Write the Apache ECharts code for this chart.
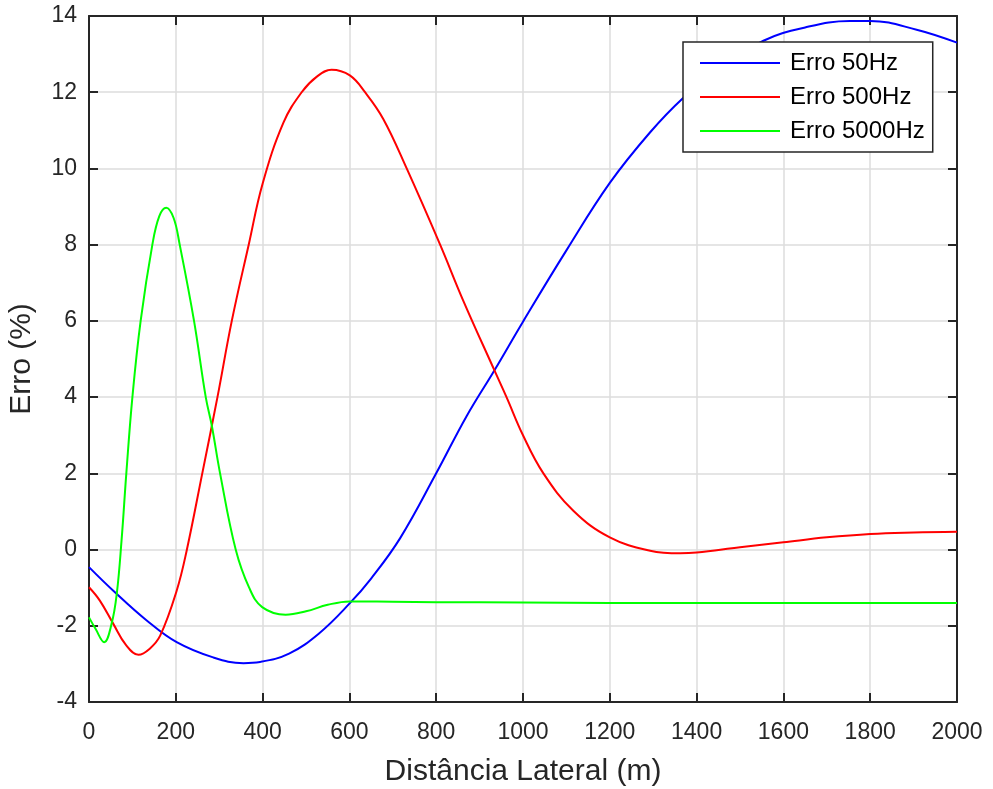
<!DOCTYPE html>
<html>
<head>
<meta charset="utf-8">
<script src="https://cdn.jsdelivr.net/npm/echarts@6/dist/echarts.min.js"></script>
<style>
html,body{margin:0;padding:0;background:#fff;}
#chart{width:993px;height:789px;}
</style>
</head>
<body>
<div id="chart"></div>
<script>
// ---- data ----
const seriesNames = ['Erro 50Hz', 'Erro 500Hz', 'Erro 5000Hz'];
const xTicks = [0, 200, 400, 600, 800, 1000, 1200, 1400, 1600, 1800, 2000];
const yTicks = [-4, -2, 0, 2, 4, 6, 8, 10, 12, 14];

const x50 = [0, 56, 133, 202, 286, 356, 394, 461, 530, 600, 650, 717, 800, 870, 935, 1000, 1100, 1200, 1293, 1369, 1450, 1554, 1650, 1753, 1800, 1907, 2000];
const y50 = [-0.46, -1.08, -1.86, -2.43, -2.83, -2.98, -2.95, -2.73, -2.2, -1.42, -0.76, 0.3, 2.0, 3.5, 4.72, 5.98, 7.85, 9.62, 10.95, 11.85, 12.6, 13.35, 13.7, 13.87, 13.87, 13.64, 13.3];

const x500 = [0, 25, 56, 85, 114, 140, 164, 202, 225, 261, 296, 329, 368, 400, 448, 490, 525, 559, 601, 636, 678, 732, 809, 862, 935, 962, 1000, 1047, 1116, 1200, 1293, 1362, 1400, 1500, 1600, 1700, 1800, 1900, 2000];
const y500 = [-0.99, -1.34, -1.95, -2.5, -2.76, -2.6, -2.26, -1.08, -0.03, 2.0, 4.0, 6.0, 8.0, 9.6, 11.2, 12.0, 12.41, 12.59, 12.44, 12.0, 11.3, 10.0, 8.0, 6.54, 4.68, 4.0, 3.0, 2.0, 1.02, 0.32, -0.03, -0.1, -0.08, 0.06, 0.19, 0.32, 0.41, 0.45, 0.47];

const x5000 = [0, 15, 35, 52, 64, 75, 86, 100, 119, 146, 162, 178, 195, 209, 242, 269, 283, 302, 338, 369, 399, 453, 500, 550, 600, 700, 800, 1000, 1200, 1400, 1600, 1800, 2000];
const y5000 = [-1.78, -2.08, -2.43, -1.95, -1.16, 0.24, 2.0, 4.0, 6.0, 8.0, 8.75, 8.97, 8.7, 8.0, 6.0, 4.0, 3.25, 2.0, 0.0, -1.0, -1.51, -1.71, -1.62, -1.45, -1.36, -1.37, -1.38, -1.39, -1.4, -1.4, -1.4, -1.4, -1.4];

const colors = ['#0000ff', '#ff0000', '#00ff00'];

// ---- chart ----
const pairs = (xs, ys) => xs.map((x, i) => [x, ys[i]]);
const allData = [pairs(x50, y50), pairs(x500, y500), pairs(x5000, y5000)];

const FONT = '"Liberation Sans", Arial, Helvetica, sans-serif';
const AX = '#262626';

const chart = echarts.init(document.getElementById('chart'), null, {renderer: 'canvas'});

const baseX = {
  type: 'value', min: xTicks[0], max: xTicks[xTicks.length - 1], interval: xTicks[1] - xTicks[0]
};
const baseY = {
  type: 'value', min: yTicks[0], max: yTicks[yTicks.length - 1], interval: yTicks[1] - yTicks[0]
};

chart.setOption({
  animation: false,
  backgroundColor: '#ffffff',
  textStyle: {fontFamily: FONT},
  grid: {left: 89, right: 36, top: 16, bottom: 87, containLabel: false, outerBoundsMode: 'none'},
  legend: {
    orient: 'vertical',
    left: 683, top: 42,
    data: seriesNames,
    icon: 'rect',
    itemWidth: 80, itemHeight: 2,
    itemGap: 10,
    padding: [9, 8, 9, 17],
    backgroundColor: '#ffffff',
    borderColor: AX, borderWidth: 1.5, borderRadius: 0,
    textStyle: {fontSize: 24, color: '#000', fontFamily: FONT, padding: [0, 0, 0, 5], lineHeight: 24}
  },
  xAxis: [
    Object.assign({}, baseX, {
      position: 'bottom',
      name: 'Distância Lateral (m)', nameLocation: 'middle', nameGap: 55,
      nameTextStyle: {fontSize: 30, color: AX, fontFamily: FONT},
      axisLine: {show: true, onZero: false, lineStyle: {color: AX, width: 2}},
      axisTick: {show: true, inside: true, length: 9, lineStyle: {color: AX, width: 2}},
      axisLabel: {fontSize: 23, color: AX, margin: 19, fontFamily: FONT, formatter: v => String(v)},
      splitLine: {show: true, lineStyle: {color: '#dcdcdc', width: 1.5}}
    }),
    Object.assign({}, baseX, {
      position: 'top',
      axisLine: {show: true, onZero: false, lineStyle: {color: AX, width: 2}},
      axisTick: {show: true, inside: true, length: 9, lineStyle: {color: AX, width: 2}},
      axisLabel: {show: false},
      splitLine: {show: false}
    })
  ],
  yAxis: [
    Object.assign({}, baseY, {
      position: 'left',
      name: 'Erro (%)', nameLocation: 'middle', nameGap: 52,
      nameTextStyle: {fontSize: 30, color: AX, fontFamily: FONT},
      axisLine: {show: true, onZero: false, lineStyle: {color: AX, width: 2}},
      axisTick: {show: true, inside: true, length: 9, lineStyle: {color: AX, width: 2}},
      axisLabel: {fontSize: 23, color: AX, margin: 12, fontFamily: FONT, padding: [6, 0, 0, 0], formatter: v => String(v)},
      splitLine: {show: true, lineStyle: {color: '#dcdcdc', width: 1.5}}
    }),
    Object.assign({}, baseY, {
      position: 'right',
      axisLine: {show: true, onZero: false, lineStyle: {color: AX, width: 2}},
      axisTick: {show: true, inside: true, length: 9, lineStyle: {color: AX, width: 2}},
      axisLabel: {show: false},
      splitLine: {show: false}
    })
  ],
  series: seriesNames.map((name, i) => ({
    name: name,
    type: 'line',
    xAxisIndex: 0, yAxisIndex: 0,
    data: allData[i],
    smooth: 0.4,
    showSymbol: false,
    symbol: 'none',
    color: colors[i],
    lineStyle: {color: colors[i], width: 2},
    z: 3
  }))
});
</script>
</body>
</html>
